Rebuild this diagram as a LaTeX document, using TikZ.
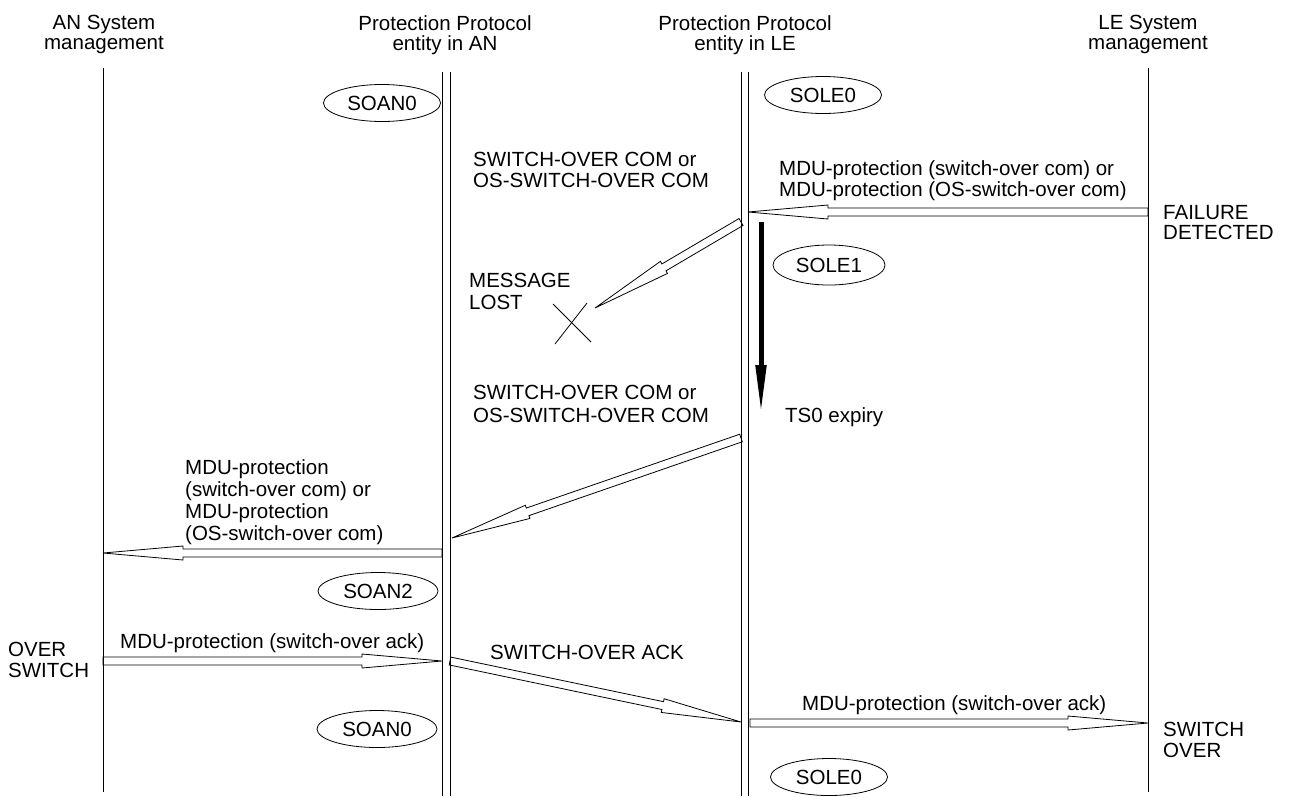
\documentclass[tikz,border=0pt]{standalone}
\usepackage{fontspec}
\setmainfont{Liberation Sans}
\usepackage{tikz}
\usetikzlibrary{shapes.geometric,calc,arrows.meta}
\tikzstyle{texto}=[inner sep=0pt,anchor=north west,align=left]
\tikzstyle{titulo}=[inner sep=0pt,anchor=north,align=center]
\tikzstyle{estado}=[draw,line width=0.8pt,ellipse,inner sep=0pt,minimum width=117pt,minimum height=37pt]
\tikzstyle{vida}=[line width=0.9pt]
\tikzstyle{msg}=[line width=0.8pt,line join=miter]
\tikzstyle{timer}=[line width=5pt,-{Triangle[length=50pt,width=10pt]}]
% hollow message arrow from #1 to #2
\newcommand{\msgarrow}[2]{%
  \coordinate (hb) at ($(#2)!80pt!(#1)$);
  \draw [msg] ($(#1)!4pt!90:(#2)$) -- ($(hb)!4pt!-90:(#1)$) -- ($(hb)!7pt!-90:(#1)$)
    -- (#2) -- ($(hb)!7pt!90:(#1)$) -- ($(hb)!4pt!90:(#1)$) -- ($(#1)!4pt!-90:(#2)$) -- cycle;
}

\begin{document}
\begin{tikzpicture}[x=1pt,y=-1pt,font=\fontsize{20.5}{21.5}\selectfont]
    \useasboundingbox (0,0) rectangle (1289,796);
    % lifelines
    \coordinate (anm top) at (103,68);   \coordinate (anm bot) at (103,792);
    \coordinate (lem top) at (1148,68);  \coordinate (lem bot) at (1148,792);
    \draw [vida] (anm top) -- (anm bot);
    \draw [vida] (lem top) -- (lem bot);
    \draw [vida] (442,72) -- (442,796);
    \draw [vida] (450,72) -- (450,796);
    \draw [vida] (741,72) -- (741,796);
    \draw [vida] (748,72) -- (748,796);
    % headers
    \node [titulo,font=\fontsize{20.5}{20}\selectfont] (h anm) at (104,15) {AN System\\management};
    \node [titulo,font=\fontsize{20.5}{20}\selectfont] (h anp) at (445,15) {Protection Protocol\\entity in AN};
    \node [titulo,font=\fontsize{20.5}{20}\selectfont] (h lep) at (745,15) {Protection Protocol\\entity in LE};
    \node [titulo,font=\fontsize{20.5}{20}\selectfont] (h lem) at (1148,15) {LE System\\management};
    % states
    \node [estado] (soan0a) at (382,103) {SOAN0};
    \node [estado] (sole0a) at (823,95) {SOLE0};
    \node [estado,minimum width=112pt,minimum height=40pt] (sole1) at (829,265) {SOLE1};
    \node [estado,minimum width=120pt] (soan2) at (378,591) {SOAN2};
    \node [estado,minimum width=120pt] (soan0b) at (377,729) {SOAN0};
    \node [estado] (sole0b) at (829,777) {SOLE0};
    % labels
    \node [texto,font=\fontsize{20.5}{21}\selectfont] (t com1) at (473,152) {SWITCH-OVER COM or\\OS-SWITCH-OVER COM};
    \node [texto] (t mdu1) at (779,160) {MDU-protection (switch-over com) or\\MDU-protection (OS-switch-over com)};
    \node [texto,font=\fontsize{20.5}{20}\selectfont] (t fail) at (1163,205) {FAILURE\\DETECTED};
    \node [texto] (t lost) at (469,273) {MESSAGE\\LOST};
    \node [texto,font=\fontsize{20.5}{23}\selectfont] (t com2) at (473,385) {SWITCH-OVER COM or\\OS-SWITCH-OVER COM};
    \node [texto] (t ts0) at (785,407) {TS0 expiry};
    \node [texto,font=\fontsize{20.5}{22.3}\selectfont] (t mdu2) at (185,459) {MDU-protection\\(switch-over com) or\\MDU-protection\\(OS-switch-over com)};
    \node [texto] (t ack1) at (120,633) {MDU-protection (switch-over ack)};
    \node [texto,font=\fontsize{20.5}{21}\selectfont] (t osw) at (8,642) {OVER\\SWITCH};
    \node [texto] (t ack) at (490,645) {SWITCH-OVER ACK};
    \node [texto] (t ack2) at (802,695) {MDU-protection (switch-over ack)};
    \node [texto,font=\fontsize{20.5}{21}\selectfont] (t sw) at (1163,722) {SWITCH\\OVER};
    % message ends
    \coordinate (m1a) at (1148,212);  \coordinate (m1b) at (748,212);
    \coordinate (m2a) at (741,222);   \coordinate (m2b) at (595,308);
    \coordinate (m3a) at (741,438);   \coordinate (m3b) at (452,538);
    \coordinate (m4a) at (442,553);   \coordinate (m4b) at (103,553);
    \coordinate (m5a) at (103,661);   \coordinate (m5b) at (442,661);
    \coordinate (m6a) at (450,661);   \coordinate (m6b) at (741,722);
    \coordinate (m7a) at (750,723);   \coordinate (m7b) at (1148,723);
    \msgarrow{m1a}{m1b}
    \msgarrow{m2a}{m2b}
    \msgarrow{m3a}{m3b}
    \msgarrow{m4a}{m4b}
    \msgarrow{m5a}{m5b}
    \msgarrow{m6a}{m6b}
    \msgarrow{m7a}{m7b}
    % lost message
    \draw [msg] (553,304) -- (591,342);
    \draw [msg] (587,303) -- (555,344);
    % timer
    \coordinate (ts top) at (761,222);  \coordinate (ts end) at (761,415);
    \draw [timer] (ts top) -- (ts end);
\end{tikzpicture}
\end{document}
